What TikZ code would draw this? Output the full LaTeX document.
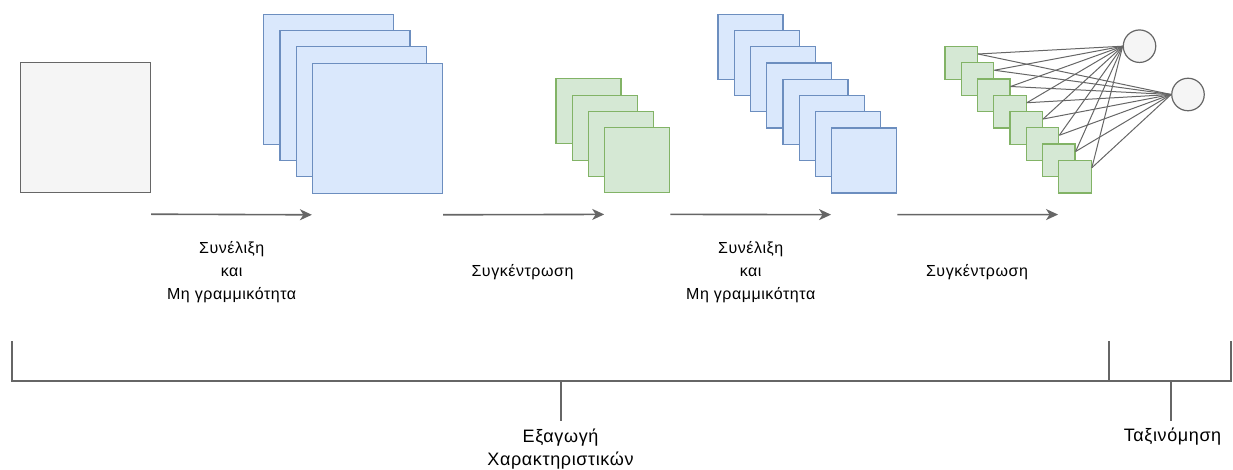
\documentclass[tikz,border=0pt]{standalone}
\usepackage{fontspec}
\setmainfont[LetterSpace=3.4]{Liberation Sans}
\usetikzlibrary{arrows.meta}
\definecolor{grayfill}{HTML}{F5F5F5}
\definecolor{graystroke}{HTML}{666666}
\definecolor{bluefill}{HTML}{DAE8FC}
\definecolor{bluestroke}{HTML}{6C8EBF}
\definecolor{greenfill}{HTML}{D5E8D4}
\definecolor{greenstroke}{HTML}{82B366}
\tikzset{
  sq/.style={draw, rectangle, anchor=north west, inner sep=0pt, line width=1.2pt},
  inputsq/.style={sq, fill=grayfill, draw=graystroke, minimum size=130pt},
  bigblue/.style={sq, fill=bluefill, draw=bluestroke, minimum size=130pt},
  midgreen/.style={sq, fill=greenfill, draw=greenstroke, minimum size=65pt},
  midblue/.style={sq, fill=bluefill, draw=bluestroke, minimum size=65pt},
  smallgreen/.style={sq, fill=greenfill, draw=greenstroke, minimum size=32.6pt},
  neuron/.style={draw=graystroke, fill=grayfill, circle, inner sep=0pt, minimum size=32.5pt, line width=1.2pt},
  fcline/.style={draw=graystroke, line width=1pt},
  flowarrow/.style={draw=graystroke, line width=1.6pt, -{Stealth[length=12pt, width=11pt, inset=3.5pt]}},
  bracketline/.style={draw=graystroke, line width=2pt},
  lbl/.style={align=center, inner sep=0pt, font=\fontsize{16}{23}\selectfont},
  biglbl/.style={align=center, inner sep=0pt, font=\fontsize{18}{23.5}\selectfont},
}
\begin{document}
\begin{tikzpicture}[x=1pt, y=-1pt]
\useasboundingbox (0,0) rectangle (1233,470);

% input
\node[inputsq] (in) at (20,62) {};

% first convolution stack
\foreach \i in {0,...,3}
  \node[bigblue] (b\i) at ({263+16.3*\i},{13.7+16.3*\i}) {};

% first pooling stack
\foreach \i in {0,...,3}
  \node[midgreen] (g\i) at ({555.3+16.3*\i},{78.3+16.3*\i}) {};

% second convolution stack
\foreach \i in {0,...,7}
  \node[midblue] (m\i) at ({717.3+16.25*\i},{13.7+16.25*\i}) {};

% second pooling stack
\foreach \i in {0,...,7}
  \node[smallgreen] (s\i) at ({944.3+16.25*\i},{46+16.25*\i}) {};

% output neurons
\node[neuron] (c1) at (1139.5,46.2) {};
\node[neuron] (c2) at (1188,94.5) {};

\foreach \i in {0,...,7} {
  \draw[fcline] ([yshift=-8pt]s\i.north east) -- (c1.west);
  \draw[fcline] ([yshift=-8pt]s\i.north east) -- (c2.west);
}

% flow arrows
\draw[flowarrow] ([yshift=-21pt]in.south east) -- ([yshift=-21pt]b3.south west);
\draw[flowarrow] ([yshift=-21pt]b3.south east) -- ([yshift=-21pt]g3.south west);
\draw[flowarrow] ([yshift=-21pt]g3.south east) -- ([yshift=-21pt]m7.south west);
\draw[flowarrow] ([yshift=-21pt]m7.south east) -- ([yshift=-21pt]s7.south west);

% labels
\node[lbl] (l1) at (231.7,272) {Συνέλιξη\\και\\Μη γραμμικότητα};
\node[lbl] (l2) at (522.5,272) {Συγκέντρωση};
\node[lbl] (l3) at (750.7,272) {Συνέλιξη\\και\\Μη γραμμικότητα};
\node[lbl] (l4) at (977,272) {Συγκέντρωση};

% bracket
\coordinate (bl) at (12,341);
\coordinate (blb) at (12,381);
\coordinate (bm) at (1109,341);
\coordinate (bmb) at (1109,381);
\coordinate (br) at (1231,341);
\coordinate (brb) at (1231,381);
\coordinate (t1) at (560.5,381);
\coordinate (t1e) at (560.5,421);
\coordinate (t2) at (1170.5,381);
\coordinate (t2e) at (1170.5,421);
\draw[bracketline] (bl) -- (blb) -- (bmb) -- (bm);
\draw[bracketline] (bmb) -- (brb) -- (br);
\draw[bracketline] (t1) -- (t1e);
\draw[bracketline] (t2) -- (t2e);

\node[biglbl] (e1) at (560.5,449) {Εξαγωγή\\Χαρακτηριστικών};
\node[biglbl] (e2) at (1172.5,437) {Ταξινόμηση};
\end{tikzpicture}
\end{document}
